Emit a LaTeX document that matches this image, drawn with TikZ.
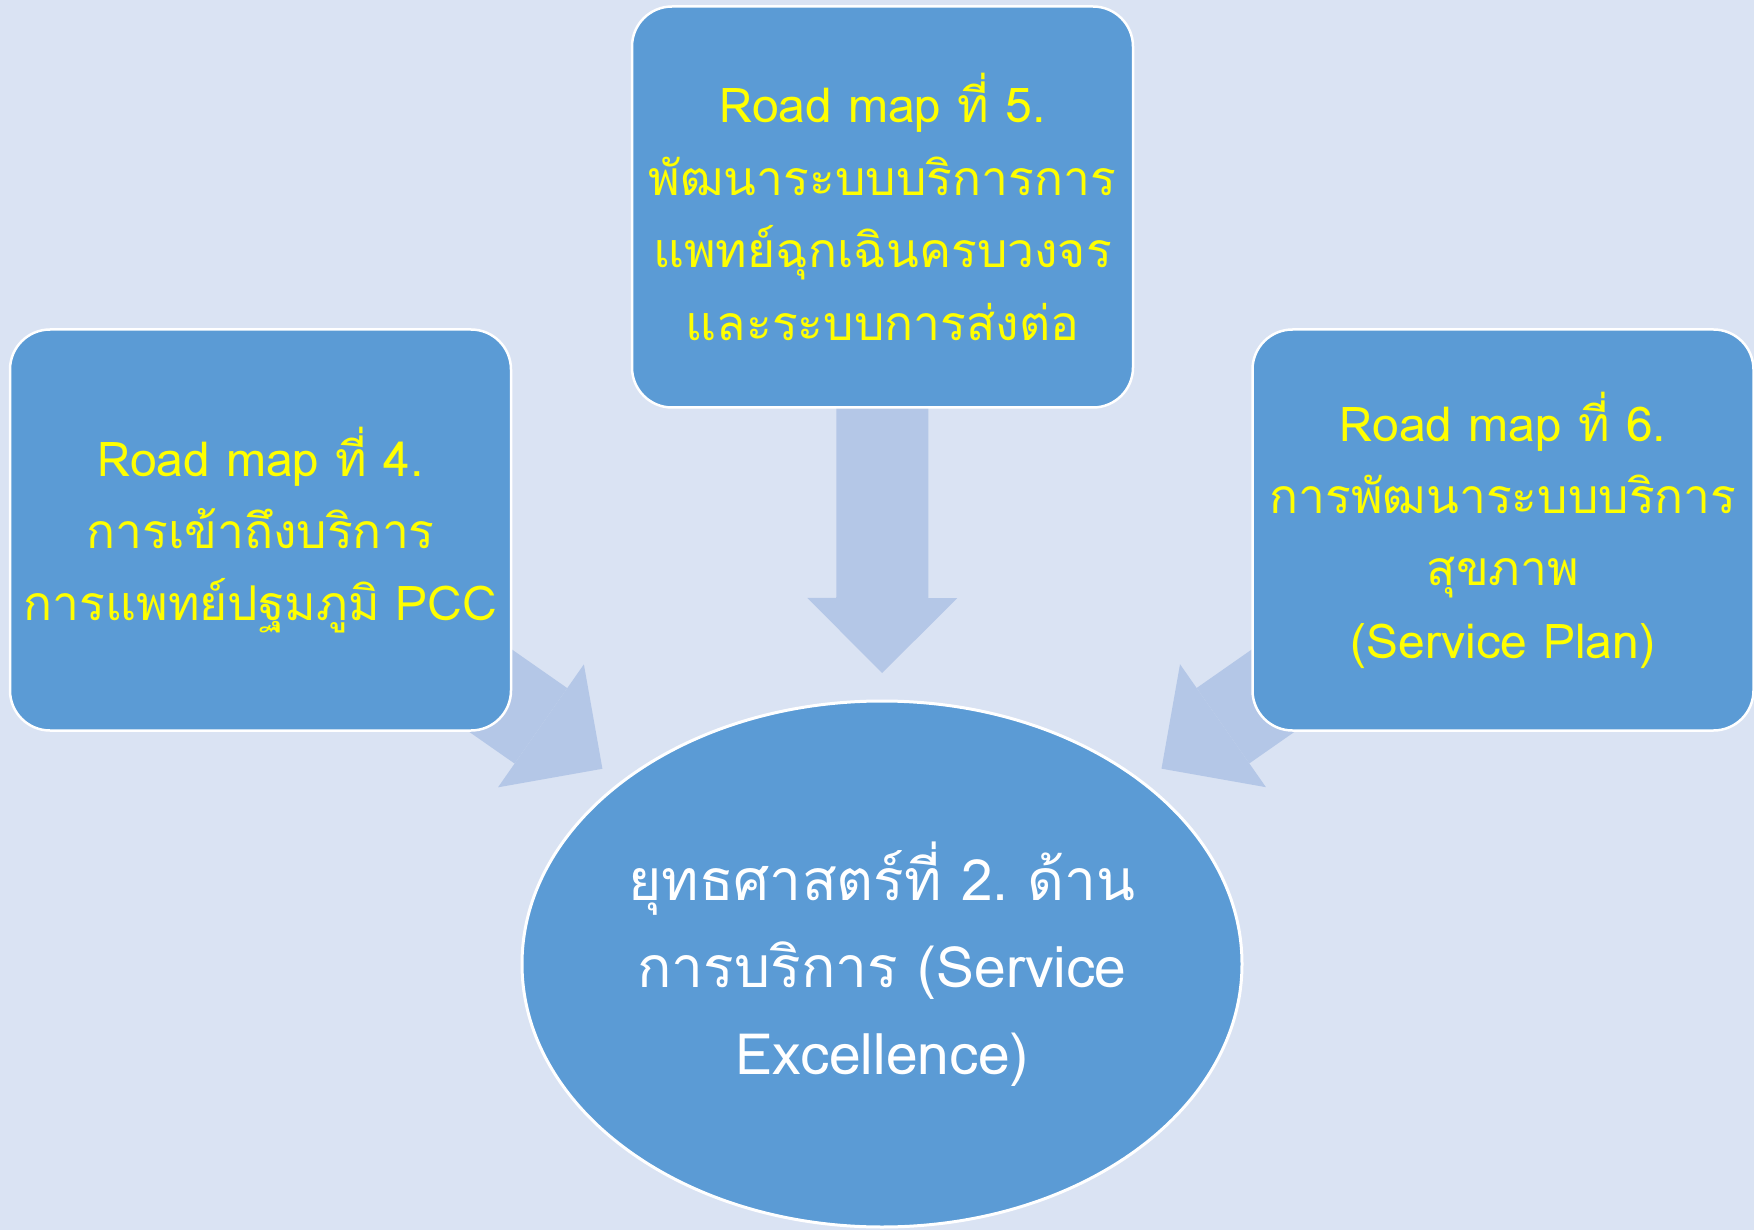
\documentclass[tikz,border=0pt]{standalone}
\usepackage{fontspec}
\newfontfamily\thaifont[Script=Thai]{Loma}
\usepackage{tikz}
\usetikzlibrary{positioning,shapes.geometric,arrows.meta,backgrounds}
\definecolor{bgblue}{HTML}{DAE3F3}
\definecolor{boxblue}{HTML}{5B9BD5}
\definecolor{arrowblue}{HTML}{B4C7E7}
\definecolor{textyellow}{HTML}{FFFF00}
\frenchspacing

\begin{document}
\begin{tikzpicture}[x=1pt, y=-1pt,
  roadmap/.style={rectangle, rounded corners=40pt, draw=white, line width=2.5pt, fill=boxblue,
    minimum width=501pt, minimum height=401pt, align=center, text=textyellow,
    font=\thaifont\fontsize{48}{72.4}\selectfont},
  goalshape/.style={ellipse, draw=white, line width=3pt, fill=boxblue, inner sep=-20pt,
    minimum width=720pt, minimum height=526pt, align=center, text=white,
    font=\thaifont\fontsize{57}{87}\selectfont},
  fatarrow/.style={draw=arrowblue, line width=92pt,
    -{Triangle[width=150pt, length=75pt, line width=0pt]}}
]
\useasboundingbox (0,0) rectangle (1754,1230);

% Road map boxes
\node[roadmap] (rm5) at (882.5,207) {Road map ที่ 5.\\พัฒนาระบบบริการการ\\แพทย์ฉุกเฉินครบวงจร\\และระบบการส่งต่อ};
\node[roadmap] (rm4) at (260.5,530) {Road map ที่ 4.\\การเข้าถึงบริการ\\การแพทย์ปฐมภูมิ PCC};
\node[roadmap] (rm6) at (1503,530) {Road map ที่ 6.\\การพัฒนาระบบบริการ\\สุขภาพ\\(Service Plan)};

% Strategy
\node[goalshape] (goal) at (882,964) {ยุทธศาสตร์ที่ 2. ด้าน\\การบริการ (Service\\Excellence)};

% Arrows behind the boxes
\begin{scope}[on background layer]
\fill[bgblue] (0,0) rectangle (1754,1230);
\draw[fatarrow, shorten >=291pt] (rm5.center) -- (goal.center);
\draw[fatarrow, shorten >=341pt] (rm4.center) -- (goal.center);
\draw[fatarrow, shorten >=341pt] (rm6.center) -- (goal.center);
\end{scope}

\end{tikzpicture}
\end{document}
